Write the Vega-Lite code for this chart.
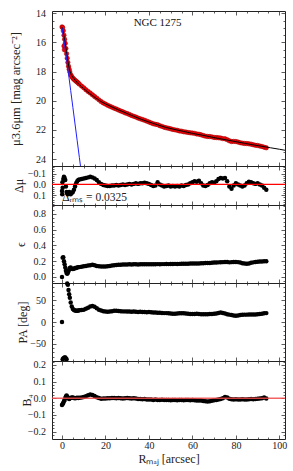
{
"$schema":"https://vega.github.io/schema/vega-lite/v6.json",
"autosize":{"type":"none"},
"padding":{"left":52,"top":11,"right":241,"bottom":460},
"bounds":"flush",
"spacing":0,
"datasets":{
"prof":[
{"R":0,"mu":14.93,"dmu":0.06,"e":0.0,"pa":0,"b4":-0.04},
{"R":0.3,"mu":14.98,"dmu":0.03,"e":0.245,"pa":-86,"b4":-0.035},
{"R":0.6,"mu":15.2,"dmu":-0.05,"e":0.25,"pa":-84,"b4":-0.028},
{"R":0.9,"mu":15.5,"dmu":-0.07,"e":0.2,"pa":-83,"b4":-0.018},
{"R":1.2,"mu":15.78,"dmu":-0.06,"e":0.16,"pa":-82,"b4":-0.01},
{"R":1.5,"mu":16.06,"dmu":-0.04,"e":0.12,"pa":-82,"b4":0.0},
{"R":1.8,"mu":16.42,"dmu":0.02,"e":0.08,"pa":-84,"b4":0.01},
{"R":2.1,"mu":16.77,"dmu":0.07,"e":0.05,"pa":-86,"b4":0.016},
{"R":2.4,"mu":17.08,"dmu":0.08,"e":0.04,"pa":89,"b4":0.01},
{"R":2.7,"mu":17.37,"dmu":0.09,"e":0.055,"pa":86,"b4":0.005},
{"R":3.0,"mu":17.63,"dmu":0.08,"e":0.075,"pa":74,"b4":0.0},
{"R":3.3,"mu":17.83,"dmu":0.07,"e":0.095,"pa":64,"b4":-0.004},
{"R":3.6,"mu":18.02,"dmu":0.08,"e":0.115,"pa":56,"b4":0.0},
{"R":4.0,"mu":18.21,"dmu":0.09,"e":0.12,"pa":45,"b4":0.002},
{"R":4.5,"mu":18.34,"dmu":0.08,"e":0.105,"pa":36,"b4":0.005},
{"R":5,"mu":18.45,"dmu":0.07,"e":0.1,"pa":30,"b4":0.004},
{"R":5.5,"mu":18.53,"dmu":0.05,"e":0.105,"pa":27.5,"b4":0.002},
{"R":6,"mu":18.6,"dmu":0.02,"e":0.115,"pa":26.5,"b4":0.0},
{"R":6.5,"mu":18.66,"dmu":-0.01,"e":0.115,"pa":26,"b4":0.002},
{"R":7,"mu":18.72,"dmu":-0.03,"e":0.12,"pa":26,"b4":0.003},
{"R":7.5,"mu":18.79,"dmu":-0.04,"e":0.125,"pa":26.5,"b4":0.002},
{"R":8,"mu":18.86,"dmu":-0.045,"e":0.125,"pa":27,"b4":0.003},
{"R":9,"mu":18.99,"dmu":-0.05,"e":0.13,"pa":27.5,"b4":0.005},
{"R":10,"mu":19.11,"dmu":-0.055,"e":0.135,"pa":28.5,"b4":0.008},
{"R":11,"mu":19.24,"dmu":-0.06,"e":0.14,"pa":30.5,"b4":0.012},
{"R":12,"mu":19.36,"dmu":-0.065,"e":0.145,"pa":33,"b4":0.018},
{"R":13,"mu":19.47,"dmu":-0.07,"e":0.15,"pa":36,"b4":0.022},
{"R":14,"mu":19.59,"dmu":-0.065,"e":0.155,"pa":37,"b4":0.02},
{"R":15,"mu":19.71,"dmu":-0.055,"e":0.15,"pa":35,"b4":0.013},
{"R":16,"mu":19.82,"dmu":-0.04,"e":0.14,"pa":31.5,"b4":0.006},
{"R":17,"mu":19.94,"dmu":-0.02,"e":0.135,"pa":28.5,"b4":0.001},
{"R":18,"mu":20.06,"dmu":-0.005,"e":0.132,"pa":26.5,"b4":-0.003},
{"R":19,"mu":20.15,"dmu":0.005,"e":0.132,"pa":25,"b4":-0.002},
{"R":20,"mu":20.23,"dmu":0.01,"e":0.133,"pa":24,"b4":-0.002},
{"R":21,"mu":20.31,"dmu":0.015,"e":0.135,"pa":23.5,"b4":0.0},
{"R":22,"mu":20.38,"dmu":0.015,"e":0.14,"pa":24,"b4":0.0},
{"R":23,"mu":20.44,"dmu":0.01,"e":0.145,"pa":25,"b4":0.002},
{"R":24,"mu":20.51,"dmu":0.01,"e":0.15,"pa":26,"b4":0.001},
{"R":25,"mu":20.57,"dmu":0.005,"e":0.152,"pa":26,"b4":0.0},
{"R":26,"mu":20.64,"dmu":0.01,"e":0.155,"pa":25.5,"b4":0.001},
{"R":27,"mu":20.7,"dmu":0.005,"e":0.155,"pa":25,"b4":0.0},
{"R":28,"mu":20.76,"dmu":0.0,"e":0.157,"pa":24.5,"b4":-0.002},
{"R":29,"mu":20.83,"dmu":0.005,"e":0.158,"pa":24.5,"b4":0.0},
{"R":30,"mu":20.88,"dmu":0.0,"e":0.158,"pa":24,"b4":0.001},
{"R":31,"mu":20.94,"dmu":-0.005,"e":0.16,"pa":24,"b4":0.0},
{"R":32,"mu":21.01,"dmu":0.0,"e":0.158,"pa":23.5,"b4":-0.001},
{"R":33,"mu":21.07,"dmu":-0.005,"e":0.16,"pa":24,"b4":0.0},
{"R":34,"mu":21.12,"dmu":-0.01,"e":0.16,"pa":23.5,"b4":-0.002},
{"R":35,"mu":21.19,"dmu":-0.005,"e":0.158,"pa":23,"b4":-0.004},
{"R":36,"mu":21.24,"dmu":-0.01,"e":0.16,"pa":23.5,"b4":-0.005},
{"R":37,"mu":21.29,"dmu":-0.01,"e":0.16,"pa":23,"b4":-0.006},
{"R":38,"mu":21.34,"dmu":-0.015,"e":0.162,"pa":23,"b4":-0.005},
{"R":39,"mu":21.4,"dmu":-0.01,"e":0.16,"pa":22.5,"b4":-0.007},
{"R":40,"mu":21.46,"dmu":-0.005,"e":0.16,"pa":23,"b4":-0.008},
{"R":41,"mu":21.52,"dmu":0.005,"e":0.162,"pa":22.5,"b4":-0.008},
{"R":42,"mu":21.58,"dmu":0.015,"e":0.16,"pa":22,"b4":-0.01},
{"R":43,"mu":21.62,"dmu":0.01,"e":0.162,"pa":22,"b4":-0.008},
{"R":44,"mu":21.64,"dmu":-0.02,"e":0.163,"pa":21.5,"b4":-0.01},
{"R":45,"mu":21.71,"dmu":0.0,"e":0.162,"pa":21.5,"b4":-0.01},
{"R":46,"mu":21.76,"dmu":0.01,"e":0.163,"pa":21,"b4":-0.009},
{"R":47,"mu":21.82,"dmu":0.02,"e":0.163,"pa":20.5,"b4":-0.01},
{"R":48,"mu":21.86,"dmu":0.015,"e":0.165,"pa":20.5,"b4":-0.011},
{"R":49,"mu":21.89,"dmu":0.01,"e":0.163,"pa":20,"b4":-0.01},
{"R":50,"mu":21.93,"dmu":0.02,"e":0.165,"pa":19.5,"b4":-0.012},
{"R":51,"mu":21.97,"dmu":0.015,"e":0.165,"pa":19,"b4":-0.01},
{"R":52,"mu":22.0,"dmu":0.02,"e":0.166,"pa":19,"b4":-0.011},
{"R":53,"mu":22.03,"dmu":0.015,"e":0.165,"pa":19.5,"b4":-0.012},
{"R":54,"mu":22.07,"dmu":0.02,"e":0.166,"pa":20,"b4":-0.01},
{"R":55,"mu":22.09,"dmu":0.01,"e":0.167,"pa":20,"b4":-0.011},
{"R":56,"mu":22.13,"dmu":0.015,"e":0.167,"pa":20,"b4":-0.012},
{"R":57,"mu":22.15,"dmu":0.005,"e":0.168,"pa":19.5,"b4":-0.01},
{"R":58,"mu":22.18,"dmu":0.0,"e":0.168,"pa":19,"b4":-0.011},
{"R":59,"mu":22.2,"dmu":-0.01,"e":0.17,"pa":18.5,"b4":-0.012},
{"R":60,"mu":22.22,"dmu":-0.02,"e":0.17,"pa":18.5,"b4":-0.01},
{"R":61,"mu":22.24,"dmu":-0.03,"e":0.17,"pa":18.5,"b4":-0.012},
{"R":62,"mu":22.28,"dmu":-0.025,"e":0.172,"pa":19,"b4":-0.013},
{"R":63,"mu":22.3,"dmu":-0.035,"e":0.172,"pa":18.5,"b4":-0.014},
{"R":64,"mu":22.34,"dmu":-0.01,"e":0.173,"pa":18,"b4":-0.014},
{"R":65,"mu":22.39,"dmu":0.01,"e":0.175,"pa":18,"b4":-0.016},
{"R":66,"mu":22.43,"dmu":0.015,"e":0.176,"pa":18,"b4":-0.018},
{"R":67,"mu":22.45,"dmu":0.005,"e":0.178,"pa":18,"b4":-0.02},
{"R":68,"mu":22.46,"dmu":-0.01,"e":0.178,"pa":18.5,"b4":-0.018},
{"R":69,"mu":22.48,"dmu":-0.02,"e":0.18,"pa":18.5,"b4":-0.015},
{"R":70,"mu":22.52,"dmu":-0.015,"e":0.182,"pa":19,"b4":-0.012},
{"R":71,"mu":22.53,"dmu":-0.03,"e":0.183,"pa":19.5,"b4":-0.01},
{"R":72,"mu":22.54,"dmu":-0.05,"e":0.185,"pa":21,"b4":-0.007},
{"R":73,"mu":22.56,"dmu":-0.06,"e":0.187,"pa":22,"b4":-0.004},
{"R":74,"mu":22.6,"dmu":-0.055,"e":0.188,"pa":21,"b4":0.0},
{"R":75,"mu":22.61,"dmu":-0.06,"e":0.19,"pa":19.5,"b4":0.007},
{"R":76,"mu":22.67,"dmu":-0.03,"e":0.19,"pa":18,"b4":0.004},
{"R":77,"mu":22.75,"dmu":0.02,"e":0.185,"pa":17,"b4":-0.003},
{"R":78,"mu":22.8,"dmu":0.04,"e":0.188,"pa":16,"b4":-0.006},
{"R":79,"mu":22.79,"dmu":0.01,"e":0.19,"pa":15,"b4":-0.008},
{"R":80,"mu":22.8,"dmu":-0.01,"e":0.19,"pa":14.5,"b4":-0.006},
{"R":81,"mu":22.84,"dmu":0.0,"e":0.188,"pa":15,"b4":-0.008},
{"R":82,"mu":22.88,"dmu":0.01,"e":0.182,"pa":16,"b4":-0.007},
{"R":83,"mu":22.91,"dmu":0.02,"e":0.175,"pa":16.5,"b4":-0.006},
{"R":84,"mu":22.93,"dmu":0.01,"e":0.17,"pa":17,"b4":-0.008},
{"R":85,"mu":22.94,"dmu":-0.01,"e":0.168,"pa":17,"b4":-0.007},
{"R":86,"mu":22.96,"dmu":-0.025,"e":0.172,"pa":17.5,"b4":-0.006},
{"R":87,"mu":22.98,"dmu":-0.02,"e":0.18,"pa":17.5,"b4":-0.005},
{"R":88,"mu":23.02,"dmu":-0.01,"e":0.185,"pa":17.5,"b4":-0.006},
{"R":89,"mu":23.06,"dmu":-0.005,"e":0.19,"pa":17.5,"b4":-0.004},
{"R":90,"mu":23.07,"dmu":-0.01,"e":0.192,"pa":18,"b4":-0.003},
{"R":91,"mu":23.11,"dmu":0.0,"e":0.195,"pa":18.5,"b4":-0.002},
{"R":92,"mu":23.14,"dmu":0.01,"e":0.197,"pa":19,"b4":0.0},
{"R":93,"mu":23.19,"dmu":0.03,"e":0.2,"pa":20,"b4":0.004},
{"R":94,"mu":23.23,"dmu":0.05,"e":0.2,"pa":20.5,"b4":-0.002},
{"R":0.9,"mu":16.25},
{"R":1.1,"mu":16.5},
{"R":0.1,"dmu":0.09},
{"R":0.2,"dmu":-0.02}
],
"model":[
{"R":0,"mu":14.95},{"R":0.5,"mu":15.25},{"R":1,"mu":15.65},{"R":1.5,"mu":16.1},{"R":2,"mu":16.6},{"R":2.5,"mu":17.1},{"R":3,"mu":17.55},{"R":3.5,"mu":17.9},{"R":4,"mu":18.12},{"R":5,"mu":18.38},{"R":6,"mu":18.58},{"R":7,"mu":18.75},{"R":8,"mu":18.9},{"R":10,"mu":19.17},{"R":12,"mu":19.42},{"R":14,"mu":19.65},{"R":16,"mu":19.86},{"R":18,"mu":20.06},{"R":20,"mu":20.22},{"R":23,"mu":20.43},{"R":26,"mu":20.63},{"R":30,"mu":20.88},{"R":33,"mu":21.07},{"R":36,"mu":21.25},{"R":40,"mu":21.46},{"R":44,"mu":21.66},{"R":48,"mu":21.84},{"R":52,"mu":21.98},{"R":56,"mu":22.11},{"R":60,"mu":22.24},{"R":64,"mu":22.35},{"R":68,"mu":22.47},{"R":72,"mu":22.59},{"R":76,"mu":22.7},{"R":80,"mu":22.81},{"R":84,"mu":22.92},{"R":88,"mu":23.03},{"R":92,"mu":23.13},{"R":96,"mu":23.23},{"R":100,"mu":23.33},{"R":102.6,"mu":23.4}
],
"blue":[
{"R":0,"mu":15.0},{"R":1,"mu":15.95},{"R":2,"mu":17.0},{"R":3,"mu":18.15},{"R":4,"mu":19.3},{"R":5,"mu":20.45},{"R":6,"mu":21.6},{"R":7,"mu":22.75},{"R":8,"mu":23.9},{"R":9,"mu":25.05}
]
},
"vconcat":[
{
"width":233,"height":155,
"resolve":{"axis":{"x":"independent","y":"independent"}},
"layer":[
{"data":{"name":"prof"},"mark":{"type":"point","filled":true,"color":"#f00008","stroke":"#9a0000","strokeWidth":0.5,"size":20,"opacity":1},
 "encoding":{"x":{"field":"R","type":"quantitative","scale":{"domain":[-4.6,102.6],"nice":false,"zero":false},"axis":{"orient":"bottom","values":[0,20,40,60,80,100],"labels":false,"title":null,"tickSize":-4}},
 "y":{"field":"mu","type":"quantitative","scale":{"domain":[13.84,24.48],"reverse":true,"nice":false,"zero":false},"axis":{"orient":"left","values":[14,16,18,20,22,24],"format":"d","tickSize":-4,"labelPadding":10.5,"title":"μ3.6μm [mag arcsec⁻²]","titleX":-37,"titleBaseline":"middle","titleFontSize":12.5}}}},
{"data":{"name":"model"},"mark":{"type":"line","color":"black","strokeWidth":1,"interpolate":"monotone","clip":true},
 "encoding":{"x":{"field":"R","type":"quantitative","axis":{"orient":"top","values":[0,20,40,60,80,100],"labels":false,"title":null,"tickSize":-4}},
 "y":{"field":"mu","type":"quantitative","axis":{"orient":"right","values":[14,16,18,20,22,24],"labels":false,"title":null,"tickSize":-4}}}},
{"data":{"name":"blue"},"mark":{"type":"line","color":"#1f1fff","strokeWidth":1,"clip":true},
 "encoding":{"x":{"field":"R","type":"quantitative","axis":{"orient":"bottom","values":[5,10,15,25,30,35,45,50,55,65,70,75,85,90,95],"labels":false,"title":null,"tickSize":-2}},
 "y":{"field":"mu","type":"quantitative","axis":{"orient":"left","values":[14.5,15,15.5,16.5,17,17.5,18.5,19,19.5,20.5,21,21.5,22.5,23,23.5],"labels":false,"title":null,"tickSize":-2}}}},
{"data":{"name":"blue"},"mark":{"type":"point","opacity":0},
 "encoding":{"x":{"field":"R","type":"quantitative","axis":{"orient":"top","values":[5,10,15,25,30,35,45,50,55,65,70,75,85,90,95],"labels":false,"title":null,"tickSize":-2}},
 "y":{"field":"mu","type":"quantitative","axis":{"orient":"right","values":[14.5,15,15.5,16.5,17,17.5,18.5,19,19.5,20.5,21,21.5,22.5,23,23.5],"labels":false,"title":null,"tickSize":-2}}}},
{"data":{"values":[{"label":"NGC 1275"}]},"mark":{"type":"text","fontSize":11,"font":"Liberation Serif","color":"#111","baseline":"middle","align":"center"},
 "encoding":{"x":{"datum":44,"type":"quantitative","axis":null},"y":{"datum":14.67,"type":"quantitative","axis":null},"text":{"field":"label"}}}
]
},
{
"width":233,"height":39,
"resolve":{"axis":{"x":"independent","y":"independent"}},
"layer":[
{"data":{"values":[{"label":"Δᵣₘₛ = 0.0325"}]},"mark":{"type":"text","fontSize":11.5,"font":"Liberation Serif","color":"#222","baseline":"alphabetic","align":"left"},
 "encoding":{"x":{"datum":0.1,"type":"quantitative","axis":null},"y":{"datum":0.15,"type":"quantitative","axis":null},"text":{"field":"label"}}},
{"data":{"name":"prof"},"mark":{"type":"point","filled":true,"color":"black","size":20,"opacity":1},
 "encoding":{"x":{"field":"R","type":"quantitative","scale":{"domain":[-4.6,102.6],"nice":false,"zero":false},"axis":{"orient":"bottom","values":[0,20,40,60,80,100],"labels":false,"title":null,"tickSize":-4}},
 "y":{"field":"dmu","type":"quantitative","scale":{"domain":[-0.17,0.19],"reverse":true,"nice":false,"zero":false},"axis":{"orient":"left","values":[-0.1,0,0.1],"format":".1f","tickSize":-4,"labelPadding":10.5,"title":"Δμ","titleX":-34,"titleBaseline":"middle"}}}},
{"data":{"values":[{}]},"mark":{"type":"rule","color":"#ff0000","strokeWidth":1.2},"encoding":{"y":{"datum":0,"type":"quantitative","axis":null}}},
{"data":{"name":"prof"},"mark":{"type":"point","opacity":0},
 "encoding":{"x":{"field":"R","type":"quantitative","axis":{"orient":"top","values":[0,20,40,60,80,100],"labels":false,"title":null,"tickSize":-4}},
 "y":{"field":"dmu","type":"quantitative","axis":{"orient":"right","values":[-0.1,0,0.1],"labels":false,"title":null,"tickSize":-4}}}},
{"data":{"name":"prof"},"mark":{"type":"point","opacity":0},
 "encoding":{"x":{"field":"R","type":"quantitative","axis":{"orient":"bottom","values":[5,10,15,25,30,35,45,50,55,65,70,75,85,90,95],"labels":false,"title":null,"tickSize":-2}},
 "y":{"field":"dmu","type":"quantitative","axis":{"orient":"left","values":[-0.16,-0.14,-0.12,-0.08,-0.06,-0.04,-0.02,0.02,0.04,0.06,0.08,0.12,0.14,0.16,0.18],"labels":false,"title":null,"tickSize":-2}}}},
{"data":{"name":"prof"},"mark":{"type":"point","opacity":0},
 "encoding":{"x":{"field":"R","type":"quantitative","axis":{"orient":"top","values":[5,10,15,25,30,35,45,50,55,65,70,75,85,90,95],"labels":false,"title":null,"tickSize":-2}},
 "y":{"field":"dmu","type":"quantitative","axis":{"orient":"right","values":[-0.16,-0.14,-0.12,-0.08,-0.06,-0.04,-0.02,0.02,0.04,0.06,0.08,0.12,0.14,0.16,0.18],"labels":false,"title":null,"tickSize":-2}}}}
]
},
{
"width":233,"height":78,
"data":{"name":"prof"},
"resolve":{"axis":{"x":"independent","y":"independent"}},
"layer":[
{"mark":{"type":"point","filled":true,"color":"black","size":20,"opacity":1},
 "encoding":{"x":{"field":"R","type":"quantitative","scale":{"domain":[-4.6,102.6],"nice":false,"zero":false},"axis":{"orient":"bottom","values":[0,20,40,60,80,100],"labels":false,"title":null,"tickSize":-4}},
 "y":{"field":"e","type":"quantitative","scale":{"domain":[-0.076,0.911],"nice":false,"zero":false},"axis":{"orient":"left","values":[0,0.2,0.4,0.6,0.8],"format":".1f","tickSize":-4,"labelPadding":10.5,"title":"ϵ","titleX":-32,"titleBaseline":"middle"}}}},
{"mark":{"type":"point","opacity":0},
 "encoding":{"x":{"field":"R","type":"quantitative","axis":{"orient":"top","values":[0,20,40,60,80,100],"labels":false,"title":null,"tickSize":-4}},
 "y":{"field":"e","type":"quantitative","axis":{"orient":"right","values":[0,0.2,0.4,0.6,0.8],"labels":false,"title":null,"tickSize":-4}}}},
{"mark":{"type":"point","opacity":0},
 "encoding":{"x":{"field":"R","type":"quantitative","axis":{"orient":"bottom","values":[5,10,15,25,30,35,45,50,55,65,70,75,85,90,95],"labels":false,"title":null,"tickSize":-2}},
 "y":{"field":"e","type":"quantitative","axis":{"orient":"left","values":[-0.05,0.05,0.1,0.15,0.25,0.3,0.35,0.45,0.5,0.55,0.65,0.7,0.75,0.85,0.9],"labels":false,"title":null,"tickSize":-2}}}},
{"mark":{"type":"point","opacity":0},
 "encoding":{"x":{"field":"R","type":"quantitative","axis":{"orient":"top","values":[5,10,15,25,30,35,45,50,55,65,70,75,85,90,95],"labels":false,"title":null,"tickSize":-2}},
 "y":{"field":"e","type":"quantitative","axis":{"orient":"right","values":[-0.05,0.05,0.1,0.15,0.25,0.3,0.35,0.45,0.5,0.55,0.65,0.7,0.75,0.85,0.9],"labels":false,"title":null,"tickSize":-2}}}}
]
},
{
"width":233,"height":78,
"data":{"name":"prof"},
"resolve":{"axis":{"x":"independent","y":"independent"}},
"layer":[
{"mark":{"type":"point","filled":true,"color":"black","size":20,"opacity":1},
 "encoding":{"x":{"field":"R","type":"quantitative","scale":{"domain":[-4.6,102.6],"nice":false,"zero":false},"axis":{"orient":"bottom","values":[0,20,40,60,80,100],"labels":false,"title":null,"tickSize":-4}},
 "y":{"field":"pa","type":"quantitative","scale":{"domain":[-90,90],"nice":false,"zero":false},"axis":{"orient":"left","values":[-50,0,50],"format":"d","tickSize":-4,"labelPadding":10.5,"title":"PA [deg]","titleX":-29.5,"titleBaseline":"middle"}}}},
{"mark":{"type":"point","opacity":0},
 "encoding":{"x":{"field":"R","type":"quantitative","axis":{"orient":"top","values":[0,20,40,60,80,100],"labels":false,"title":null,"tickSize":-4}},
 "y":{"field":"pa","type":"quantitative","axis":{"orient":"right","values":[-50,0,50],"labels":false,"title":null,"tickSize":-4}}}},
{"mark":{"type":"point","opacity":0},
 "encoding":{"x":{"field":"R","type":"quantitative","axis":{"orient":"bottom","values":[5,10,15,25,30,35,45,50,55,65,70,75,85,90,95],"labels":false,"title":null,"tickSize":-2}},
 "y":{"field":"pa","type":"quantitative","axis":{"orient":"left","values":[-80,-70,-60,-40,-30,-20,-10,10,20,30,40,60,70,80],"labels":false,"title":null,"tickSize":-2}}}},
{"mark":{"type":"point","opacity":0},
 "encoding":{"x":{"field":"R","type":"quantitative","axis":{"orient":"top","values":[5,10,15,25,30,35,45,50,55,65,70,75,85,90,95],"labels":false,"title":null,"tickSize":-2}},
 "y":{"field":"pa","type":"quantitative","axis":{"orient":"right","values":[-80,-70,-60,-40,-30,-20,-10,10,20,30,40,60,70,80],"labels":false,"title":null,"tickSize":-2}}}}
]
},
{
"width":233,"height":78,
"resolve":{"axis":{"x":"independent","y":"independent"}},
"layer":[
{"data":{"name":"prof"},"mark":{"type":"point","filled":true,"color":"black","size":20,"opacity":1},
 "encoding":{"x":{"field":"R","type":"quantitative","scale":{"domain":[-4.6,102.6],"nice":false,"zero":false},"axis":{"orient":"bottom","values":[0,20,40,60,80,100],"format":"d","tickSize":-4,"labelPadding":5,"title":"Rₘₐⱼ [arcsec]","titlePadding":3}},
 "y":{"field":"b4","type":"quantitative","scale":{"domain":[-0.244,0.223],"nice":false,"zero":false},"axis":{"orient":"left","values":[-0.2,-0.1,0,0.1,0.2],"format":".1f","tickSize":-4,"labelPadding":10.5,"title":"B₄","titleX":-25.5,"titleBaseline":"middle"}}}},
{"data":{"values":[{}]},"mark":{"type":"rule","color":"#f04848","strokeWidth":1.5,"opacity":0.85},"encoding":{"y":{"datum":0,"type":"quantitative","axis":null}}},
{"data":{"name":"prof"},"mark":{"type":"point","opacity":0},
 "encoding":{"x":{"field":"R","type":"quantitative","axis":{"orient":"top","values":[0,20,40,60,80,100],"labels":false,"title":null,"tickSize":-4}},
 "y":{"field":"b4","type":"quantitative","axis":{"orient":"right","values":[-0.2,-0.1,0,0.1,0.2],"labels":false,"title":null,"tickSize":-4}}}},
{"data":{"name":"prof"},"mark":{"type":"point","opacity":0},
 "encoding":{"x":{"field":"R","type":"quantitative","axis":{"orient":"bottom","values":[5,10,15,25,30,35,45,50,55,65,70,75,85,90,95],"labels":false,"title":null,"tickSize":-2}},
 "y":{"field":"b4","type":"quantitative","axis":{"orient":"left","values":[-0.22,-0.18,-0.16,-0.14,-0.12,-0.08,-0.06,-0.04,-0.02,0.02,0.04,0.06,0.08,0.12,0.14,0.16,0.18,0.22],"labels":false,"title":null,"tickSize":-2}}}},
{"data":{"name":"prof"},"mark":{"type":"point","opacity":0},
 "encoding":{"x":{"field":"R","type":"quantitative","axis":{"orient":"top","values":[5,10,15,25,30,35,45,50,55,65,70,75,85,90,95],"labels":false,"title":null,"tickSize":-2}},
 "y":{"field":"b4","type":"quantitative","axis":{"orient":"right","values":[-0.22,-0.18,-0.16,-0.14,-0.12,-0.08,-0.06,-0.04,-0.02,0.02,0.04,0.06,0.08,0.12,0.14,0.16,0.18,0.22],"labels":false,"title":null,"tickSize":-2}}}}
]
}
],
"config":{
"view":{"stroke":"#222","strokeWidth":1},
"axis":{"domain":false,"grid":false,"tickColor":"#333","tickWidth":0.8,"labelFont":"Liberation Serif","labelFontSize":10,"labelColor":"#222","labelFlush":false,"labelOverlap":false,"titleFont":"Liberation Serif","titleFontSize":12,"titleFontWeight":"normal","titleColor":"#222"},
"text":{"font":"Liberation Serif"}
}
}
